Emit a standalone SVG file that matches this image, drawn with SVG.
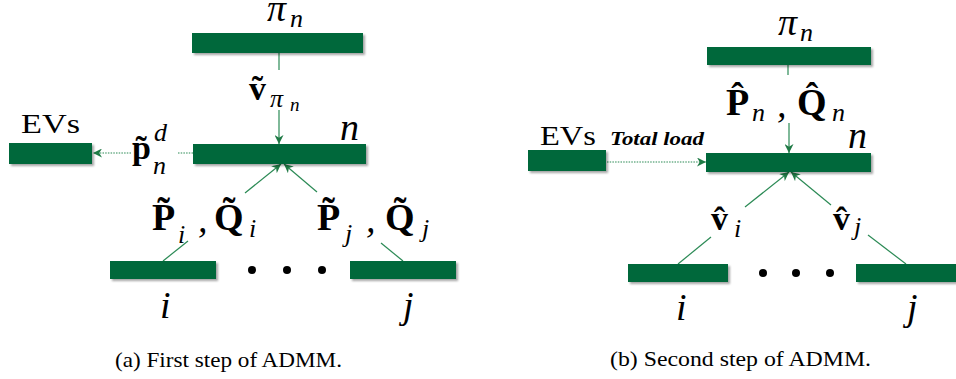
<svg xmlns="http://www.w3.org/2000/svg" width="956" height="379" viewBox="0 0 956 379">
<style>
.bar{fill:#03673a;filter:url(#sh)}
.ln{stroke:#2b8a55;stroke-width:1.2;fill:none}
.dt{stroke:#2b8a55;stroke-width:1.2;fill:none;stroke-dasharray:1.5 1.2}
.ar{marker-end:url(#ah)}
text{font-family:'Liberation Serif','DejaVu Serif',serif;fill:#000}
.mi{font-style:italic;font-size:38px}
.ms{font-style:italic;font-size:26px}
.mss{font-style:italic;font-size:19px}
.mb{font-weight:bold;font-size:38px}
.mv{font-weight:bold;font-size:34px}
.rm{font-size:28px}
.cap{font-size:21px}
.tl{font-size:18px;font-weight:bold;font-style:italic}
</style>
<defs>
<filter id="sh" x="-10%" y="-30%" width="130%" height="180%">
<feDropShadow dx="2" dy="2" stdDeviation="1.3" flood-color="#000" flood-opacity="0.35"/>
</filter>
<marker id="ah" viewBox="0 0 10 10" refX="10" refY="5" markerWidth="9" markerHeight="9" markerUnits="userSpaceOnUse" orient="auto">
<path d="M0,0 L10,5 L0,10 L3,5 z" fill="#1f7a45"/>
</marker>
</defs>

<g id="connectors">
<line class="ln" x1="279" y1="53" x2="279" y2="70"/>
<line class="ln ar" x1="279" y1="110" x2="279" y2="144"/>
<line class="dt" x1="193" y1="153" x2="177" y2="153"/>
<line class="dt ar" x1="131" y1="153" x2="93" y2="153"/>
<line class="ln" x1="163" y1="261" x2="188" y2="241"/>
<line class="ln ar" x1="245" y1="193" x2="281" y2="164"/>
<line class="ln" x1="403" y1="261" x2="381" y2="243"/>
<line class="ln ar" x1="317" y1="192" x2="284" y2="164"/>

<line class="ln" x1="788" y1="65" x2="788" y2="75"/>
<line class="ln ar" x1="789" y1="123" x2="789" y2="153"/>
<line class="dt ar" x1="607" y1="162" x2="706" y2="162"/>
<line class="ln" x1="678" y1="264" x2="711" y2="237"/>
<line class="ln ar" x1="745" y1="207" x2="789" y2="172"/>
<line class="ln" x1="906" y1="264" x2="868" y2="235"/>
<line class="ln ar" x1="831" y1="205" x2="791" y2="172"/>
</g>

<!-- Panel (a) -->
<g id="a-pi">
<rect class="bar" x="192" y="33" width="171" height="20"/>
<text class="mi" x="267" y="21">π</text><text class="ms" x="290" y="27">n</text>
</g>
<g id="a-n">
<rect class="bar" x="193" y="144" width="173" height="20"/>
<text class="mi" x="340" y="140">n</text>
</g>
<g id="a-evs">
<rect class="bar" x="9" y="143" width="83" height="21"/>
<text class="rm" x="21" y="133" textLength="59" lengthAdjust="spacingAndGlyphs">EVs</text>
</g>
<g id="a-i">
<rect class="bar" x="110" y="261" width="106" height="18"/>
<text class="mi" x="160" y="318">i</text>
</g>
<g id="a-j">
<rect class="bar" x="350" y="261" width="106" height="18"/>
<text class="mi" x="403" y="318">j</text>
</g>
<g id="a-dots" fill="#000">
<circle cx="252" cy="270" r="4"/><circle cx="287" cy="270" r="4"/><circle cx="322" cy="270" r="4"/>
</g>
<g id="a-labels">
<text class="mv" x="249" y="100">ṽ</text>
<text class="ms" x="270" y="107">π</text><text class="mss" x="290" y="111">n</text>

<text class="mv" x="132" y="159">p̃</text>
<text class="ms" x="154" y="141">d</text><text class="ms" x="153" y="174">n</text>

<text class="mb" x="152" y="230">P̃</text>
<text class="ms" x="178" y="243">i</text><text class="mi" x="198" y="232">,</text>
<text class="mb" x="214" y="230">Q̃</text>
<text class="ms" x="249" y="237">i</text>

<text class="mb" x="317" y="230">P̃</text>
<text class="ms" x="345" y="242">j</text><text class="mi" x="366" y="232">,</text>
<text class="mb" x="385" y="230">Q̃</text>
<text class="ms" x="422" y="237">j</text>
</g>
<text class="cap" x="115" y="367" textLength="227" lengthAdjust="spacingAndGlyphs">(a) First step of ADMM.</text>

<!-- Panel (b) -->
<g id="b-pi">
<rect class="bar" x="707" y="47" width="164" height="18"/>
<text class="mi" x="778" y="35">π</text><text class="ms" x="800" y="41">n</text>
</g>
<g id="b-n">
<rect class="bar" x="706" y="153" width="165" height="19"/>
<text class="mi" x="848" y="148">n</text>
</g>
<g id="b-evs">
<rect class="bar" x="528" y="150" width="78" height="21"/>
<text class="rm" x="540" y="145" textLength="56" lengthAdjust="spacingAndGlyphs">EVs</text>
</g>
<g id="b-i">
<rect class="bar" x="628" y="264" width="100" height="18"/>
<text class="mi" x="676" y="320">i</text>
</g>
<g id="b-j">
<rect class="bar" x="856" y="264" width="100" height="18"/>
<text class="mi" x="907" y="320">j</text>
</g>
<g id="b-dots" fill="#000">
<circle cx="763" cy="273" r="4"/><circle cx="796" cy="273" r="4"/><circle cx="830" cy="273" r="4"/>
</g>
<g id="b-labels">
<text class="tl" x="610" y="145" textLength="94" lengthAdjust="spacingAndGlyphs">Total load</text>

<text class="mb" x="726" y="115">P̂</text>
<text class="ms" x="752" y="121">n</text><text class="mi" x="777" y="117">,</text>
<text class="mb" x="797" y="115">Q̂</text>
<text class="ms" x="832" y="121">n</text>

<text class="mv" x="711" y="230">v̂</text>
<text class="ms" x="734" y="237">i</text>
<text class="mv" x="833" y="230">v̂</text>
<text class="ms" x="854" y="235">j</text>
</g>
<text class="cap" x="610" y="366" textLength="261" lengthAdjust="spacingAndGlyphs">(b) Second step of ADMM.</text>
</svg>
